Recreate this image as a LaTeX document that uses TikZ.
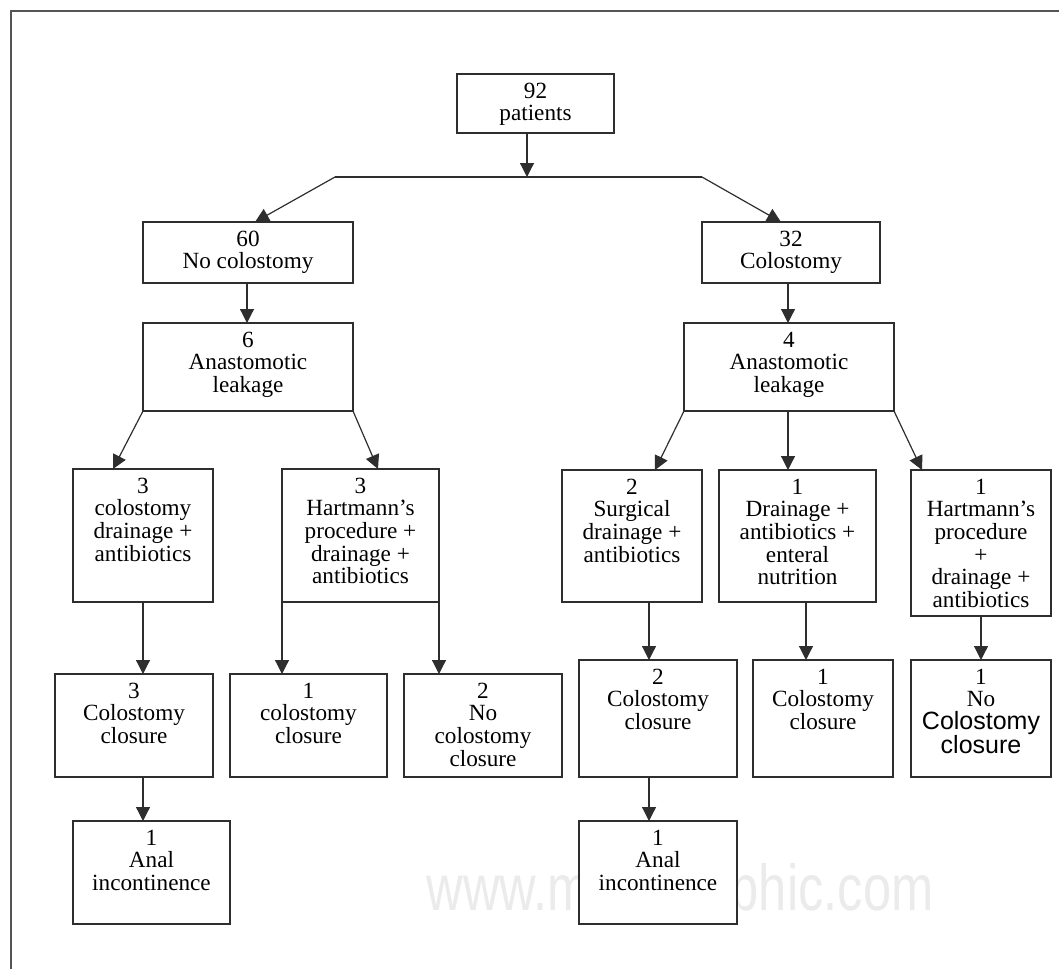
\documentclass[tikz,border=0pt]{standalone}
\usepackage{fontspec}
\setmainfont{Liberation Serif}
\newfontfamily\sansf{Liberation Sans}
\usetikzlibrary{arrows.meta}
\definecolor{ln}{HTML}{2E2E2E}
\definecolor{fr}{HTML}{555555}
\definecolor{wmc}{HTML}{EBEBEB}
\newcommand\boxfont{\fontsize{23.2pt}{22.7pt}\selectfont}
\newcommand\bx[6]{\node[box, anchor=north west] (#1) at (#2,#3) {\parbox[c][\dimexpr #5pt-#3pt\relax][t]{\dimexpr #4pt-#2pt\relax}{\centering\boxfont\rule{0pt}{24pt}#6\par}};}
\begin{document}
\begin{tikzpicture}[x=1pt,y=-1pt,
  box/.style={draw=ln, line width=1.2pt, fill=white, inner sep=0pt, outer sep=0pt},
  arr/.style={draw=ln, line width=1.2pt, -{Triangle[width=14pt,length=14pt]}},
  conn/.style={draw=ln, line width=1.2pt},
  wm/.style={text=wmc, inner sep=0pt, anchor=base}]
\useasboundingbox (0,0) rectangle (1059,969);
% frame
\coordinate (fb) at (11,969);
\coordinate (fc) at (11,11);
\coordinate (fe) at (1059,11);
\draw[fr, line width=2pt] (fb) -- (fc) -- (fe);
% watermark
\node[wm] (wmark) at (680,910) {\scalebox{0.78}[1]{\fontsize{65pt}{65pt}\sansf www.medigraphic.com}};
% boxes
\bx{top}{457}{74}{614}{133}{92\\patients}
\bx{nocol}{143}{222}{353}{283}{60\\No colostomy}
\bx{col}{702}{222}{880}{283}{32\\Colostomy}
\bx{leakL}{143}{323}{353}{411}{6\\Anastomotic\\leakage}
\bx{leakR}{684}{323}{894}{411}{4\\Anastomotic\\leakage}
\bx{colL}{73}{469}{213}{602}{3\\colostomy\\drainage +\\antibiotics}
\bx{hartL}{282}{469}{439}{602}{3\\Hartmann’s\\procedure +\\drainage +\\antibiotics}
\bx{surg}{562}{470}{702}{602}{2\\Surgical\\drainage +\\antibiotics}
\bx{drain}{719}{470}{876}{602}{1\\Drainage +\\antibiotics +\\enteral\\nutrition}
\bx{hartR}{911}{470}{1051}{616}{1\\Hartmann’s\\procedure\\+\\drainage +\\antibiotics}
\bx{closeL}{55}{674}{213}{777}{3\\Colostomy\\closure}
\bx{closeA}{230}{674}{387}{777}{1\\colostomy\\closure}
\bx{nocloseA}{404}{674}{562}{777}{2\\No\\colostomy\\closure}
\bx{closeB}{579}{660}{737}{777}{2\\Colostomy\\closure}
\bx{closeC}{753}{660}{893}{777}{1\\Colostomy\\closure}
\bx{nocloseB}{911}{660}{1051}{777}{1\\No\\{\sansf\fontsize{25pt}{22.7pt}\selectfont Colostomy}\\{\sansf\fontsize{25pt}{22.7pt}\selectfont closure}}
\bx{analL}{73}{821}{230}{924}{1\\Anal\\incontinence}
\bx{analR}{579}{821}{737}{924}{1\\Anal\\incontinence}
% connectors
\coordinate (j) at (527,177);
\coordinate (hl) at (335,177);
\coordinate (hr) at (702,177);
\coordinate (xa) at (247,0);
\coordinate (xb) at (788,0);
\coordinate (xc) at (143,0);
\coordinate (xd) at (649,0);
\coordinate (xe) at (806,0);
\coordinate (xf) at (981,0);
\draw[arr] (top.south -| j) -- (j);
\draw[conn] (hl) -- (hr);
\draw[arr] (hl) -- ([xshift=112pt]nocol.north west);
\draw[arr] (hr) -- ([xshift=79pt]col.north west);
\draw[arr] (nocol.south -| xa) -- (leakL.north -| xa);
\draw[arr] (col.south -| xb) -- (leakR.north -| xb);
\draw[arr] (leakL.south west) -- ([xshift=40pt]colL.north west);
\draw[arr] (leakL.south east) -- ([xshift=96pt]hartL.north west);
\draw[arr] (leakR.south west) -- ([xshift=93pt]surg.north west);
\draw[arr] (leakR.south -| xb) -- (drain.north -| xb);
\draw[arr] (leakR.south east) -- ([xshift=11pt]hartR.north west);
\draw[arr] (colL.south -| xc) -- (closeL.north -| xc);
\draw[arr] (hartL.south west) -- (hartL.south west |- closeA.north);
\draw[arr] (hartL.south east) -- (hartL.south east |- nocloseA.north);
\draw[arr] (surg.south -| xd) -- (closeB.north -| xd);
\draw[arr] (drain.south -| xe) -- (closeC.north -| xe);
\draw[arr] (hartR.south -| xf) -- (nocloseB.north -| xf);
\draw[arr] (closeL.south -| xc) -- (analL.north -| xc);
\draw[arr] (closeB.south -| xd) -- (analR.north -| xd);
\end{tikzpicture}
\end{document}
